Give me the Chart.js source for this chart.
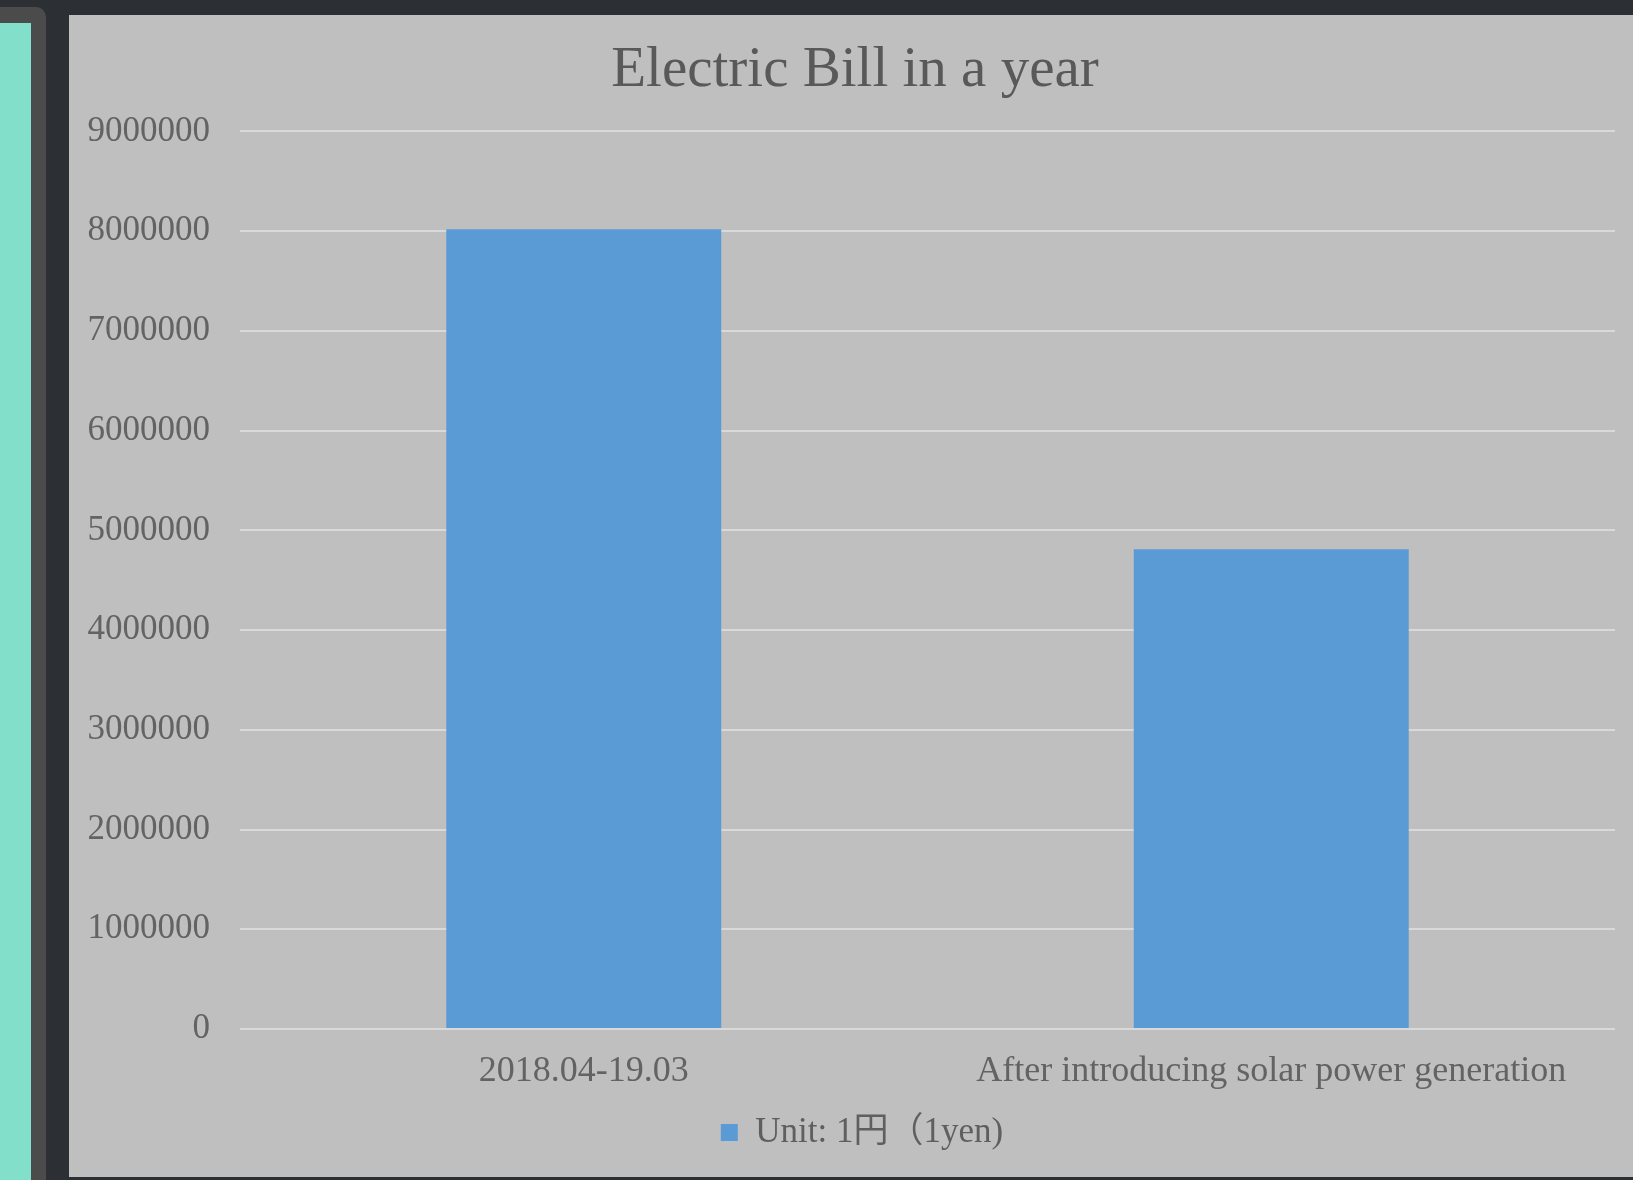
<!DOCTYPE html>
<html>
<head>
<meta charset="utf-8">
<script src="https://cdn.jsdelivr.net/npm/chart.js@4.4.1/dist/chart.umd.min.js"></script>
<style>
  body { margin: 0; width: 1633px; height: 1180px; overflow: hidden; position: relative; background: #2c3035; }
  #frame { position: absolute; left: -20px; top: 7px; width: 66px; height: 1200px; background: #4b4b4b; border-radius: 10px; }
  #strip { position: absolute; left: 0; top: 23px; width: 31px; height: 1200px; background: #82dfc9; }
  #panel { position: absolute; left: 69px; top: 15px; width: 1564px; height: 1162px; background: #bfbfbf; }
</style>
</head>
<body>
<div id="frame"></div>
<div id="strip"></div>
<div id="panel"><canvas id="chart"></canvas></div>
<script>
const categories = ['2018.04-19.03', 'After introducing solar power generation'];
const bill = [8020000, 4810000];
const seriesName = 'Unit: 1円（1yen)';
const yTicks = [0, 1000000, 2000000, 3000000, 4000000, 5000000, 6000000, 7000000, 8000000, 9000000];

const serif = '"Liberation Serif", "Noto Sans CJK JP", serif';

// shift title / legend sideways, Excel centres them differently
const nudge = {
  id: 'nudge',
  afterLayout(chart) {
    chart.titleBlock.left += 13;
    chart.titleBlock.right += 13;
    chart.legend.left += 20;
    chart.legend.right += 20;
  }
};

new Chart(document.getElementById('chart'), {
  type: 'bar',
  data: {
    labels: categories,
    datasets: [{
      label: seriesName,
      data: bill,
      backgroundColor: '#5b9bd5',
      barPercentage: 0.4,
      categoryPercentage: 1
    }]
  },
  options: {
    responsive: true,
    maintainAspectRatio: false,
    animation: false,
    layout: { padding: { left: 0, right: 18, top: 0, bottom: 17 } },
    plugins: {
      title: {
        display: true,
        text: 'Electric Bill in a year',
        color: '#595959',
        font: { family: serif, size: 57, weight: 'normal' },
        padding: { top: 22, bottom: 26 }
      },
      legend: {
        position: 'bottom',
        labels: {
          color: '#5f5f5f',
          font: { family: serif, size: 35 },
          boxWidth: 17,
          boxHeight: 17,
          padding: 22
        }
      },
      tooltip: { enabled: false }
    },
    scales: {
      x: {
        afterFit(axis) { axis.height = 64; },
        grid: { display: false, drawTicks: false },
        border: { display: false },
        ticks: { color: '#636363', font: { family: serif, size: 36 }, padding: 21, maxRotation: 0 }
      },
      y: {
        min: 0,
        max: 9000000,
        afterFit(axis) { axis.width = 171; },
        afterBuildTicks(axis) { axis.ticks = yTicks.map(v => ({ value: v })); },
        grid: { color: '#d9d9d9', lineWidth: 2, drawTicks: false },
        border: { display: false },
        ticks: {
          color: '#636363',
          font: { family: serif, size: 35 },
          padding: 30,
          callback: v => String(v)
        }
      }
    }
  },
  plugins: [nudge]
});
</script>
</body>
</html>
